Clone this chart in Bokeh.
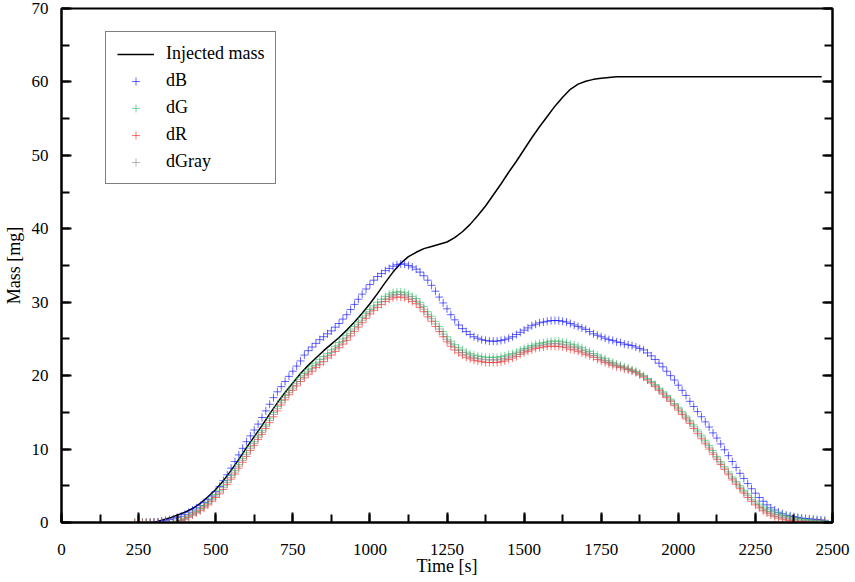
import numpy as np
from bokeh.plotting import figure
from bokeh.models import Range1d, LinearAxis, SingleIntervalTicker, Legend, LegendItem
from bokeh.embed import file_html
from bokeh.resources import INLINE

FONT = "Liberation Serif"

# Injected mass (line)
t_inj = [300, 325, 350, 375, 400, 425, 450, 475, 500, 525, 550, 575, 600, 625, 650, 675,
         700, 725, 750, 775, 800, 825, 850, 875, 900, 925, 950, 975, 1000, 1025, 1050, 1075,
         1100, 1125, 1150, 1175, 1200, 1225, 1250, 1275, 1300, 1325, 1350, 1375, 1400, 1425,
         1450, 1475, 1500, 1525, 1550, 1575, 1600, 1625, 1650, 1675, 1700, 1725, 1750, 1775,
         1800, 2465]
m_inj = [0.0, 0.3, 0.6, 1.0, 1.4, 1.9, 2.6, 3.5, 4.5, 5.7, 7.1, 8.6, 10.2, 11.7, 13.2, 14.8,
         16.3, 17.7, 19.0, 20.3, 21.4, 22.4, 23.4, 24.3, 25.2, 26.2, 27.3, 28.5, 29.8, 31.2, 32.7, 34.1,
         35.3, 36.2, 36.8, 37.3, 37.6, 37.9, 38.2, 38.8, 39.6, 40.6, 41.8, 43.1, 44.6, 46.1,
         47.7, 49.2, 50.8, 52.4, 53.9, 55.3, 56.7, 57.9, 59.0, 59.7, 60.1, 60.35, 60.5, 60.6,
         60.7, 60.7]

# sample times of the measured series (12.5 s step)
t_meas = list(np.arange(237.5, 2475.1, 12.5))

dB = [-0.5, 0.0, 0.0, 0.0, 0.0,
      0.05, 0.1, 0.2, 0.3, 0.4, 0.5, 0.7, 0.85,
      1.1, 1.4, 1.7, 2.0, 2.3, 2.7, 3.1, 3.6,
      4.2, 4.9, 5.7, 6.5, 7.4, 8.3, 9.2, 10.1,
      11.0, 11.8, 12.6, 13.4, 14.3, 15.2, 16.1, 17.0,
      17.8, 18.5, 19.2, 19.9, 20.6, 21.3, 22.0, 22.8,
      23.4, 23.9, 24.4, 24.9, 25.3, 25.7, 26.1, 26.6,
      27.1, 27.7, 28.3, 29.0, 29.7, 30.4, 31.1, 31.8,
      32.4, 33.0, 33.5, 33.9, 34.3, 34.6, 34.9, 35.1,
      35.2, 35.2, 35.0, 34.8, 34.5, 34.1, 33.6, 33.0,
      32.3, 31.5, 30.7, 29.9, 29.1, 28.3, 27.6, 26.9,
      26.4, 26.0, 25.6, 25.3, 25.1, 24.9, 24.8, 24.7,
      24.7, 24.7, 24.8, 24.9, 25.1, 25.3, 25.6, 25.9,
      26.2, 26.5, 26.8, 27.0, 27.2, 27.3, 27.4, 27.5,
      27.5, 27.5, 27.4, 27.3, 27.1, 26.9, 26.7, 26.5,
      26.3, 26.0, 25.7, 25.5, 25.3, 25.1, 24.9, 24.8,
      24.6, 24.5, 24.3, 24.2, 24.1, 23.9, 23.7, 23.5,
      23.1, 22.7, 22.2, 21.7, 21.2, 20.6, 20.0, 19.4,
      18.7, 18.0, 17.3, 16.5, 15.8, 15.1, 14.4, 13.7,
      13.0, 12.2, 11.5, 10.7, 9.9, 9.1, 8.3, 7.5,
      6.7, 6.0, 5.3, 4.6, 4.0, 3.4, 2.9, 2.4,
      2.0, 1.7, 1.4, 1.2, 1.0, 0.9, 0.8, 0.7,
      0.6, 0.55, 0.5, 0.45, 0.4, 0.35, 0.3]

dG = [0.0, 0.0, 0.0, 0.0, 0.0,
      0.0, 0.0, 0.0, 0.0, 0.0, 0.05, 0.2, 0.35,
      0.6, 0.9, 1.2, 1.5, 1.9, 2.3, 2.8, 3.3,
      3.8, 4.4, 5.0, 5.7, 6.4, 7.1, 7.9, 8.7,
      9.5, 10.3, 11.0, 11.8, 12.5, 13.3, 14.2, 15.0,
      15.8, 16.6, 17.3, 18.0, 18.6, 19.2, 19.8, 20.3,
      20.8, 21.3, 21.7, 22.2, 22.6, 23.0, 23.5, 24.0,
      24.5, 25.0, 25.5, 26.1, 26.7, 27.3, 27.9, 28.5,
      29.0, 29.5, 30.0, 30.4, 30.8, 31.1, 31.3, 31.4,
      31.4, 31.3, 31.1, 30.8, 30.5, 30.0, 29.4, 28.7,
      28.1, 27.4, 26.7, 26.0, 25.3, 24.7, 24.2, 23.8,
      23.5, 23.2, 23.0, 22.8, 22.7, 22.6, 22.5, 22.5,
      22.5, 22.5, 22.6, 22.7, 22.9, 23.0, 23.2, 23.5,
      23.7, 23.9, 24.1, 24.3, 24.4, 24.5, 24.6, 24.7,
      24.7, 24.7, 24.6, 24.5, 24.3, 24.2, 24.0, 23.8,
      23.5, 23.3, 23.0, 22.8, 22.5, 22.3, 22.0, 21.8,
      21.6, 21.4, 21.2, 21.0, 20.8, 20.6, 20.3, 20.0,
      19.6, 19.2, 18.8, 18.3, 17.8, 17.3, 16.8, 16.2,
      15.7, 15.1, 14.5, 13.9, 13.3, 12.6, 11.9, 11.2,
      10.5, 9.8, 9.0, 8.3, 7.6, 6.9, 6.2, 5.6,
      5.0, 4.4, 3.9, 3.4, 2.9, 2.5, 2.1, 1.8,
      1.5, 1.3, 1.1, 0.95, 0.85, 0.75, 0.65, 0.55,
      0.5, 0.4, 0.35, 0.3, 0.25, 0.2, 0.2]

dR = [0.0, 0.0, 0.0, 0.0, 0.0,
      0.0, 0.0, 0.0, 0.0, 0.0, 0.0, 0.1, 0.25,
      0.45, 0.7, 1.0, 1.3, 1.6, 2.0, 2.4, 2.9,
      3.4, 3.9, 4.5, 5.2, 5.9, 6.6, 7.4, 8.2,
      9.0, 9.8, 10.5, 11.3, 12.0, 12.8, 13.6, 14.4,
      15.2, 16.0, 16.7, 17.4, 18.0, 18.6, 19.2, 19.7,
      20.2, 20.6, 21.1, 21.5, 21.9, 22.4, 22.8, 23.3,
      23.8, 24.3, 24.8, 25.4, 26.0, 26.6, 27.2, 27.8,
      28.4, 28.9, 29.3, 29.7, 30.1, 30.4, 30.6, 30.7,
      30.7, 30.6, 30.4, 30.1, 29.8, 29.3, 28.7, 28.0,
      27.4, 26.7, 26.0, 25.3, 24.6, 24.0, 23.5, 23.1,
      22.8, 22.5, 22.3, 22.1, 22.0, 21.9, 21.8, 21.8,
      21.8, 21.8, 21.9, 22.0, 22.2, 22.4, 22.6, 22.9,
      23.1, 23.3, 23.5, 23.7, 23.8, 23.9, 24.0, 24.0,
      24.0, 24.0, 23.9, 23.8, 23.6, 23.5, 23.3, 23.1,
      22.9, 22.7, 22.5, 22.2, 22.0, 21.8, 21.6, 21.4,
      21.2, 21.1, 20.9, 20.8, 20.6, 20.4, 20.1, 19.8,
      19.4, 19.0, 18.5, 18.0, 17.5, 17.0, 16.5, 15.9,
      15.3, 14.7, 14.1, 13.5, 12.8, 12.1, 11.4, 10.7,
      10.0, 9.3, 8.6, 7.9, 7.2, 6.5, 5.8, 5.2,
      4.6, 4.0, 3.4, 2.9, 2.4, 2.0, 1.6, 1.3,
      1.0, 0.8, 0.6, 0.45, 0.35, 0.25, 0.2, 0.15,
      0.1, 0.1, 0.05, 0.05, 0.05, 0.0, 0.0]

dGray = [0.0, 0.0, 0.0, 0.0, 0.0,
         0.0, 0.0, 0.0, 0.0, 0.0, 0.02, 0.15, 0.3,
         0.5, 0.8, 1.1, 1.4, 1.75, 2.15, 2.6, 3.1,
         3.6, 4.15, 4.75, 5.45, 6.15, 6.85, 7.65, 8.45,
         9.25, 10.05, 10.75, 11.55, 12.25, 13.05, 13.9, 14.7,
         15.5, 16.3, 17.0, 17.7, 18.3, 18.9, 19.5, 20.0,
         20.5, 20.95, 21.4, 21.85, 22.25, 22.7, 23.15, 23.65,
         24.15, 24.65, 25.15, 25.75, 26.35, 26.95, 27.55, 28.15,
         28.7, 29.2, 29.65, 30.05, 30.45, 30.75, 30.95, 31.05,
         31.05, 30.95, 30.75, 30.45, 30.15, 29.65, 29.05, 28.35,
         27.75, 27.05, 26.35, 25.65, 24.95, 24.35, 23.85, 23.45,
         23.15, 22.85, 22.65, 22.45, 22.35, 22.25, 22.15, 22.15,
         22.15, 22.15, 22.25, 22.35, 22.55, 22.7, 22.9, 23.2,
         23.4, 23.6, 23.8, 24.0, 24.1, 24.2, 24.3, 24.35,
         24.35, 24.35, 24.25, 24.15, 23.95, 23.85, 23.65, 23.45,
         23.2, 23.0, 22.75, 22.5, 22.25, 22.05, 21.8, 21.6,
         21.4, 21.25, 21.05, 20.9, 20.7, 20.5, 20.2, 19.9,
         19.5, 19.1, 18.65, 18.15, 17.65, 17.15, 16.65, 16.05,
         15.5, 14.9, 14.3, 13.7, 13.05, 12.35, 11.65, 10.95,
         10.25, 9.55, 8.8, 8.1, 7.4, 6.7, 6.0, 5.4,
         4.8, 4.2, 3.65, 3.15, 2.65, 2.25, 1.85, 1.55,
         1.25, 1.05, 0.85, 0.7, 0.6, 0.5, 0.4, 0.35,
         0.3, 0.25, 0.2, 0.18, 0.15, 0.1, 0.1]

labels = ["Injected mass", "dB", "dG", "dR", "dGray"]
colors = {"dB": "#0000ff", "dG": "#1fbf5f", "dR": "#ff1a1a", "dGray": "#858585"}

p = figure(width=853, height=580, x_range=Range1d(0, 2500), y_range=Range1d(0, 70),
           output_backend="svg", toolbar_location=None,
           min_border_left=61, min_border_right=21, min_border_top=8, min_border_bottom=58)
p.xgrid.visible = False
p.ygrid.visible = False
p.outline_line_color = "black"
p.outline_line_width = 2
p.background_fill_color = "white"
p.border_fill_color = "white"

def style_axis(ax, interval, show_labels=True):
    ax.ticker = SingleIntervalTicker(interval=interval, num_minor_ticks=2)
    ax.axis_line_color = "black"
    ax.axis_line_width = 2
    ax.major_tick_line_color = "black"
    ax.major_tick_line_width = 2
    ax.minor_tick_line_color = "black"
    ax.minor_tick_line_width = 2
    ax.major_tick_in = 10
    ax.major_tick_out = 0
    ax.minor_tick_in = 8
    ax.minor_tick_out = 0
    ax.major_label_text_font = FONT
    if show_labels:
        ax.major_label_text_font_size = "17px"
        ax.major_label_text_color = "black"
    else:
        ax.major_label_text_font_size = "1px"
        ax.major_label_text_color = None
        ax.major_label_standoff = 0
    ax.axis_label_text_font = FONT
    ax.axis_label_text_font_size = "18px"
    ax.axis_label_text_font_style = "normal"
    ax.axis_label_text_color = "black"

style_axis(p.xaxis[0], 250)
style_axis(p.yaxis[0], 10)
p.xaxis[0].axis_label = "Time [s]"
p.yaxis[0].axis_label = "Mass [mg]"
p.xaxis[0].major_label_standoff = 21
p.xaxis[0].axis_label_standoff = -2
p.yaxis[0].major_label_standoff = 13
p.yaxis[0].axis_label_standoff = 5

right = LinearAxis()
style_axis(right, 10, show_labels=False)
p.add_layout(right, "right")

line_r = p.line(t_inj, m_inj, line_color="black", line_width=1.5)
series = [("dB", dB), ("dG", dG), ("dR", dR), ("dGray", dGray)]
rends = {}
for name, vals in series:
    rends[name] = p.scatter(t_meas, vals, marker="cross", size=8,
                            line_color=colors[name], line_alpha=0.6, line_width=1)

items = [LegendItem(label=labels[0], renderers=[line_r])]
for name in labels[1:]:
    items.append(LegendItem(label=name, renderers=[rends[name]]))

legend = Legend(items=items, location=(44, 338))
legend.border_line_color = "black"
legend.border_line_width = 1.5
legend.background_fill_color = "white"
legend.background_fill_alpha = 1
legend.label_text_font = FONT
legend.label_text_font_size = "18px"
legend.label_text_color = "black"
legend.padding = 11
legend.spacing = 6
legend.glyph_height = 20
legend.label_height = 20
legend.glyph_width = 37
legend.label_standoff = 12
legend.margin = 0
p.add_layout(legend, "center")

open("out.html", "w").write(file_html(p, INLINE))
